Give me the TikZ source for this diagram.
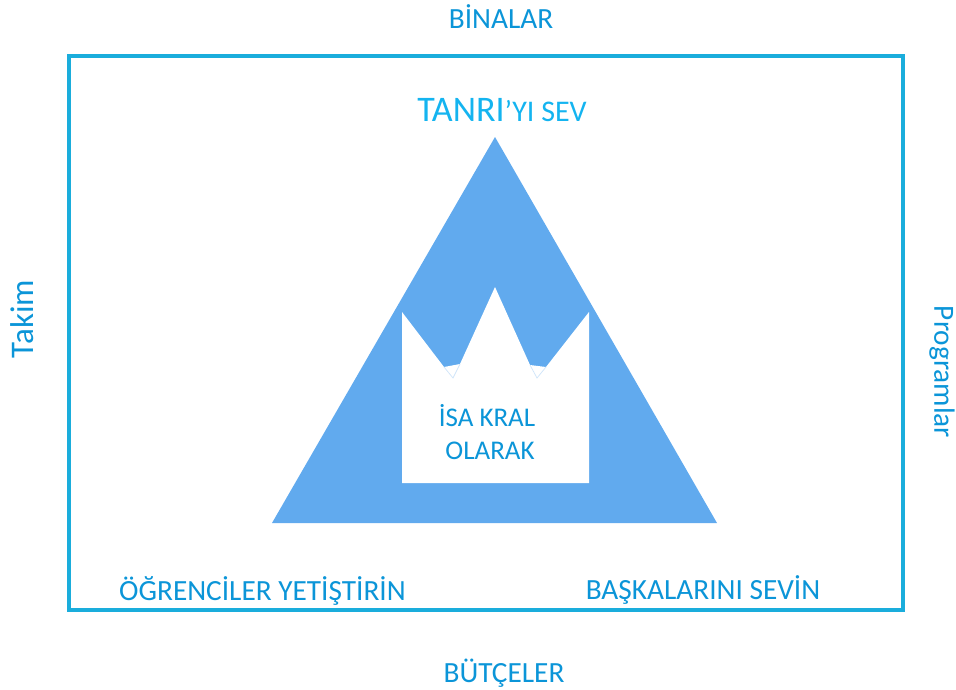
\documentclass[tikz,border=0pt]{standalone}
\usepackage{fontspec}
\setmainfont{Carlito}
\usepackage{tikz}
\definecolor{framecol}{HTML}{1AADDC}
\definecolor{labelcol}{HTML}{0B95D8}
\definecolor{topcol}{HTML}{14B4F0}
\definecolor{trianglecol}{HTML}{61AAEE}
\definecolor{notchcol}{HTML}{CFE5FA}

\begin{document}
\begin{tikzpicture}[x=1pt, y=-1pt, inner sep=0pt,
    lbl/.style={text=labelcol, font=\fontsize{29.3}{32}\selectfont}]
    \useasboundingbox (0,0) rectangle (956,689);

    \draw[framecol, line width=4.5pt] (69,56) rectangle (903,610);
    \fill[trianglecol] (495,137) -- (717,523) -- (272,523) -- cycle;
    \fill[white] (402,312) -- (444,367) -- (460,364) -- (495,287)
        -- (530,365) -- (546,367) -- (589,312) -- (589,483) -- (402,483) -- cycle;
    \draw[notchcol, line width=0.7pt] (444,367) -- (453,378) -- (460,364);
    \draw[notchcol, line width=0.7pt] (546,367) -- (537,378) -- (530,365);

    \node[lbl] (binalar) at (501,17) {BİNALAR};
    \node[text=topcol] (tanri) at (502,110) {\fontsize{36}{40}\selectfont TANRI\fontsize{30}{32}\selectfont ’YI SEV};
    \node[lbl, font=\fontsize{33}{36}\selectfont, rotate=90] (takim) at (22,319) {Takim};
    \node[lbl, rotate=-90] (programlar) at (942,372) {Programlar};
    \node[lbl, font=\fontsize{27}{30}\selectfont, align=center] (isa) at (487,432) {İSA KRAL\\[3pt]\ OLARAK};
    \node[lbl] (ogrenciler) at (262.5,591) {ÖĞRENCİLER YETİŞTİRİN};
    \node[lbl] (baskalarini) at (703,590) {BAŞKALARINI SEVİN};
    \node[lbl] (butceler) at (504,673) {BÜTÇELER};
\end{tikzpicture}
\end{document}
